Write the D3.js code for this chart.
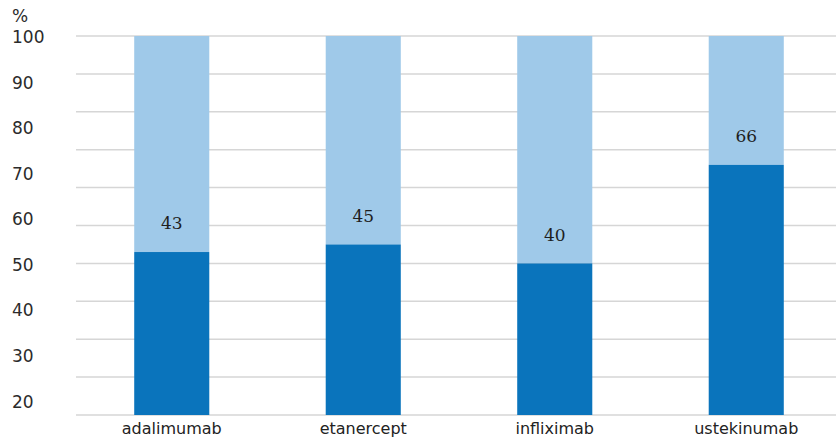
<!DOCTYPE html>
<html>
<head>
<meta charset="utf-8">
<script src="https://cdn.jsdelivr.net/npm/d3@7"></script>
<style>
  html, body { margin: 0; padding: 0; background: #fff; }
  svg { display: block; }
</style>
</head>
<body>
<svg id="chart" width="836" height="440"></svg>
<script>
// Drugs and the share (%) of the lower, dark segment of each 100% column
const categories = ["adalimumab", "etanercept", "infliximab", "ustekinumab"];
const darkValues = [43, 45, 40, 66];
const totalValue = 100;
// Printed y-axis labels
const tickLabels = [100, 90, 80, 70, 60, 50, 40, 30, 20];
const gridValues = d3.range(0, 101, 10);

const svg = d3.select("#chart");
const W = 836;

const x = d3.scaleBand()
  .domain(categories)
  .range([76, 842])
  .paddingInner(0.608)
  .paddingOuter(0.304);

// bar values run 0–100 across the plotting area
const y = d3.scaleLinear().domain([0, 100]).range([415, 36]);
// printed axis labels are spread on their own scale
const yLabel = d3.scaleLinear().domain([20, 100]).range([401.5, 37]);

// gridlines
svg.append("g")
  .selectAll("line")
  .data(gridValues)
  .join("line")
  .attr("x1", 76)
  .attr("x2", W)
  .attr("y1", d => y(d))
  .attr("y2", d => y(d))
  .attr("stroke", "#d6d6d6")
  .attr("stroke-width", 1.5);

// axis labels
const axisG = svg.append("g")
  .attr("font-family", "DejaVu Sans, Verdana, sans-serif")
  .attr("font-size", 17)
  .attr("fill", "#2b2b2b");

axisG.selectAll("text.tick")
  .data(tickLabels)
  .join("text")
  .attr("class", "tick")
  .attr("x", 12)
  .attr("y", d => yLabel(d))
  .attr("dy", "0.36em")
  .text(d => d);

axisG.append("text")
  .attr("x", 12)
  .attr("y", 22)
  .text("%");

// stacked columns
const cols = svg.append("g")
  .selectAll("g")
  .data(categories.map((c, i) => ({ c, v: darkValues[i] })))
  .join("g");

cols.append("rect")
  .attr("x", d => x(d.c))
  .attr("width", x.bandwidth())
  .attr("y", y(totalValue))
  .attr("height", d => y(d.v) - y(totalValue))
  .attr("fill", "#9fc9e9");

cols.append("rect")
  .attr("x", d => x(d.c))
  .attr("width", x.bandwidth())
  .attr("y", d => y(d.v))
  .attr("height", d => y(0) - y(d.v))
  .attr("fill", "#0a74bc");

// value labels just above the dark segment
cols.append("text")
  .attr("x", d => x(d.c) + x.bandwidth() / 2)
  .attr("y", d => y(d.v) - 29)
  .attr("dy", "0.36em")
  .attr("text-anchor", "middle")
  .attr("font-family", "DejaVu Serif, Liberation Serif, serif")
  .attr("font-size", 17)
  .attr("fill", "#1e1e1e")
  .text(d => d.v);

// category labels
svg.append("g")
  .selectAll("text")
  .data(categories)
  .join("text")
  .attr("x", d => x(d) + x.bandwidth() / 2)
  .attr("y", 434)
  .attr("text-anchor", "middle")
  .attr("font-family", "DejaVu Sans, Verdana, sans-serif")
  .attr("font-size", 16)
  .attr("fill", "#222")
  .text(d => d);
</script>
</body>
</html>
